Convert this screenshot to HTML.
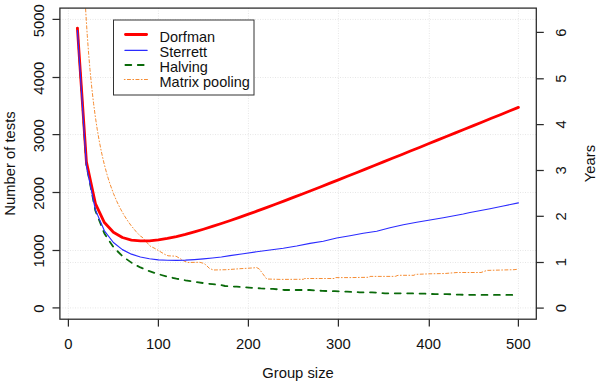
<!DOCTYPE html>
<html><head><meta charset="utf-8"><style>
html,body{margin:0;padding:0;background:#fff;}
svg{display:block;}
text{font-family:"Liberation Sans",sans-serif;font-size:14.8px;fill:#111;}
</style></head><body>
<svg width="600" height="385" viewBox="0 0 600 385">
<rect width="600" height="385" fill="#fff"/>
<g stroke="#e6e6e6" stroke-width="1" stroke-dasharray="1,1.5" fill="none">
<line x1="68.4" y1="8" x2="68.4" y2="319"/>
<line x1="158.4" y1="8" x2="158.4" y2="319"/>
<line x1="248.4" y1="8" x2="248.4" y2="319"/>
<line x1="338.4" y1="8" x2="338.4" y2="319"/>
<line x1="429.3" y1="8" x2="429.3" y2="319"/>
<line x1="518.4" y1="8" x2="518.4" y2="319"/>
<line x1="60" y1="307.9" x2="537" y2="307.9"/>
<line x1="60" y1="250.5" x2="537" y2="250.5"/>
<line x1="60" y1="192.5" x2="537" y2="192.5"/>
<line x1="60" y1="134.6" x2="537" y2="134.6"/>
<line x1="60" y1="77.5" x2="537" y2="77.5"/>
<line x1="60" y1="19.4" x2="537" y2="19.4"/>
<line x1="60" y1="262.5" x2="537" y2="262.5"/>
</g>
<defs><clipPath id="c"><rect x="60" y="8" width="477" height="311"/></clipPath></defs>
<g clip-path="url(#c)" fill="none" stroke-linejoin="round">
<polyline points="83.70,-28.22 84.60,-9.56 85.50,7.12 86.40,22.14 87.30,35.73 88.20,48.08 89.10,59.36 90.00,69.70 91.80,87.99 93.60,103.67 95.40,117.26 97.20,129.15 99.00,139.64 100.80,148.97 102.60,157.31 104.40,164.82 107.10,174.78 109.80,183.43 113.40,193.36 117.00,201.81 120.60,209.10 124.20,215.45 127.80,221.03 131.40,225.97 135.90,231.40 140.40,236.16 142.00,237.00 150.00,246.00 155.00,248.50 160.00,251.50 165.00,254.50 168.00,255.80 176.00,256.20 180.00,258.50 184.00,261.00 188.00,262.50 200.00,262.30 204.00,263.50 206.00,265.00 209.30,268.30 213.30,270.00 226.70,269.70 240.00,268.70 253.30,267.90 256.70,267.60 259.30,269.00 262.70,273.70 266.70,279.00 280.00,279.40 303.30,279.30 304.70,278.50 334.00,278.50 336.00,277.60 350.00,277.60 368.70,277.30 370.00,276.40 395.30,276.40 398.00,275.30 414.00,275.30 415.30,274.40 430.00,273.80 445.00,273.50 457.00,272.50 481.00,272.50 487.00,270.40 514.00,269.70 518.40,269.20" stroke="#f68d34" stroke-width="1.0" stroke-linecap="round" stroke-dasharray="0.8,2.3,3.1,2.3"/>
<polyline points="77.40,27.87 86.40,165.11 95.40,210.74 104.40,233.49 113.40,247.11 122.40,256.17 131.40,262.62 140.40,267.45 149.40,271.20 158.40,274.18 167.40,276.62 176.40,278.65 185.40,280.36 194.40,281.82 203.40,283.09 212.40,284.19 221.40,285.16 225.00,286.00 236.70,286.70 249.00,287.60 260.70,288.40 273.00,288.90 284.70,290.00 297.30,290.00 309.70,290.00 322.30,290.90 335.00,291.20 347.00,291.60 359.70,292.30 372.00,292.30 385.00,293.30 397.00,293.30 409.30,293.30 422.30,293.60 435.00,294.10 447.00,294.10 459.70,294.70 471.70,294.90 484.30,294.90 497.00,294.90 509.00,294.90 518.40,294.90" stroke="#0a6a0a" stroke-width="1.8" stroke-linecap="round" stroke-dasharray="5.9,6.5" stroke-dashoffset="4.92"/>
<polyline points="77.40,28.04 86.40,161.73 95.40,203.61 104.40,222.55 113.40,232.31 122.40,237.48 131.40,240.04 140.40,240.97 149.40,240.81 158.40,239.89 167.40,238.42 176.40,236.54 185.40,234.34 194.40,231.89 203.40,229.25 212.40,226.46 221.40,223.53 230.40,220.50 239.40,217.37 248.40,214.17 257.40,210.91 266.40,207.60 275.40,204.24 284.40,200.84 293.40,197.40 302.40,193.94 311.40,190.45 320.40,186.93 329.40,183.40 338.40,179.85 347.40,176.29 356.40,172.71 365.40,169.13 374.40,165.53 383.40,161.92 392.40,158.31 401.40,154.69 410.40,151.07 419.40,147.44 428.40,143.80 437.40,140.17 446.40,136.53 455.40,132.89 464.40,129.25 473.40,125.61 482.40,121.96 491.40,118.32 500.40,114.68 509.40,111.04 518.40,107.39" stroke="#ff0000" stroke-width="2.8" stroke-linecap="round"/>
<polyline points="77.40,30.38 86.40,166.03 95.40,209.88 104.40,230.78 113.40,242.50 122.40,249.63 131.40,254.14 140.40,257.01 149.40,258.80 158.40,259.82 167.40,260.29 176.40,260.35 185.40,260.09 194.40,259.57 203.40,258.86 212.40,257.99 221.40,256.99 230.00,255.60 243.30,253.70 256.70,251.70 270.00,250.00 283.30,248.30 296.70,246.00 310.00,243.40 323.30,241.30 336.70,238.00 350.00,235.70 363.30,233.30 376.70,231.30 390.00,227.80 403.30,224.70 416.70,222.30 430.00,220.00 443.30,217.70 456.70,215.30 463.30,214.00 470.00,212.50 476.70,211.30 490.00,208.70 503.30,206.00 518.40,202.90" stroke="#2b2bff" stroke-width="1.15" stroke-linecap="round"/>
</g>
<rect x="59.9" y="8.1" width="476.4" height="311.1" fill="none" stroke="#262626" stroke-width="1.25"/>
<g stroke="#2a2a2a" stroke-width="1.25">
<line x1="68.4" y1="319.2" x2="68.4" y2="326.6"/>
<line x1="158.4" y1="319.2" x2="158.4" y2="326.6"/>
<line x1="248.4" y1="319.2" x2="248.4" y2="326.6"/>
<line x1="338.4" y1="319.2" x2="338.4" y2="326.6"/>
<line x1="429.3" y1="319.2" x2="429.3" y2="326.6"/>
<line x1="518.4" y1="319.2" x2="518.4" y2="326.6"/>
<line x1="52.5" y1="307.9" x2="59.9" y2="307.9"/>
<line x1="52.5" y1="250.5" x2="59.9" y2="250.5"/>
<line x1="52.5" y1="192.5" x2="59.9" y2="192.5"/>
<line x1="52.5" y1="134.6" x2="59.9" y2="134.6"/>
<line x1="52.5" y1="77.5" x2="59.9" y2="77.5"/>
<line x1="52.5" y1="19.4" x2="59.9" y2="19.4"/>
<line x1="536.3" y1="308.1" x2="543.8" y2="308.1"/>
<line x1="536.3" y1="262.5" x2="543.8" y2="262.5"/>
<line x1="536.3" y1="216.3" x2="543.8" y2="216.3"/>
<line x1="536.3" y1="170.5" x2="543.8" y2="170.5"/>
<line x1="536.3" y1="124.6" x2="543.8" y2="124.6"/>
<line x1="536.3" y1="78.8" x2="543.8" y2="78.8"/>
<line x1="536.3" y1="32.4" x2="543.8" y2="32.4"/>
</g>
<text x="68.4" y="348.7" text-anchor="middle">0</text>
<text x="158.4" y="348.7" text-anchor="middle">100</text>
<text x="248.4" y="348.7" text-anchor="middle">200</text>
<text x="338.4" y="348.7" text-anchor="middle">300</text>
<text x="428.7" y="348.7" text-anchor="middle">400</text>
<text x="518.4" y="348.7" text-anchor="middle">500</text>
<text transform="translate(44.2,308.6) rotate(-90)" text-anchor="middle">0</text>
<text transform="translate(44.2,251.0) rotate(-90)" text-anchor="middle">1000</text>
<text transform="translate(44.2,193.4) rotate(-90)" text-anchor="middle">2000</text>
<text transform="translate(44.2,135.8) rotate(-90)" text-anchor="middle">3000</text>
<text transform="translate(44.2,78.2) rotate(-90)" text-anchor="middle">4000</text>
<text transform="translate(44.2,20.7) rotate(-90)" text-anchor="middle">5000</text>
<text transform="translate(565.5,308.1) rotate(-90)" text-anchor="middle">0</text>
<text transform="translate(565.5,262.2) rotate(-90)" text-anchor="middle">1</text>
<text transform="translate(565.5,216.3) rotate(-90)" text-anchor="middle">2</text>
<text transform="translate(565.5,170.4) rotate(-90)" text-anchor="middle">3</text>
<text transform="translate(565.5,124.5) rotate(-90)" text-anchor="middle">4</text>
<text transform="translate(565.5,78.6) rotate(-90)" text-anchor="middle">5</text>
<text transform="translate(565.5,32.7) rotate(-90)" text-anchor="middle">6</text>
<text transform="translate(15,163.5) rotate(-90)" text-anchor="middle">Number of tests</text>
<text transform="translate(594.5,163.5) rotate(-90)" text-anchor="middle">Years</text>
<text x="298" y="377.5" text-anchor="middle">Group size</text>
<rect x="113.5" y="20" width="140.5" height="75" fill="#fff" stroke="#333" stroke-width="1"/>
<g fill="none">
<line x1="125.5" y1="34.5" x2="146.6" y2="34.5" stroke="#ff0000" stroke-width="2.8" stroke-linecap="round"/>
<line x1="124.9" y1="50.3" x2="147.2" y2="50.3" stroke="#2b2bff" stroke-width="1.15" stroke-linecap="round"/>
<line x1="125.4" y1="65" x2="146.9" y2="65" stroke="#0a6a0a" stroke-width="1.8" stroke-linecap="round" stroke-dasharray="5.9,6.5"/>
<line x1="124.3" y1="79.5" x2="147.8" y2="79.5" stroke="#f68d34" stroke-width="1.0" stroke-linecap="round" stroke-dasharray="0.8,2.3,3.1,2.3"/>
</g>
<text x="159.5" y="41.9" style="font-size:14.5px">Dorfman</text>
<text x="159.5" y="57" style="font-size:14.5px">Sterrett</text>
<text x="159.5" y="72.2" style="font-size:14.5px">Halving</text>
<text x="159.5" y="87" style="font-size:14.5px">Matrix pooling</text>
</svg>
</body></html>
